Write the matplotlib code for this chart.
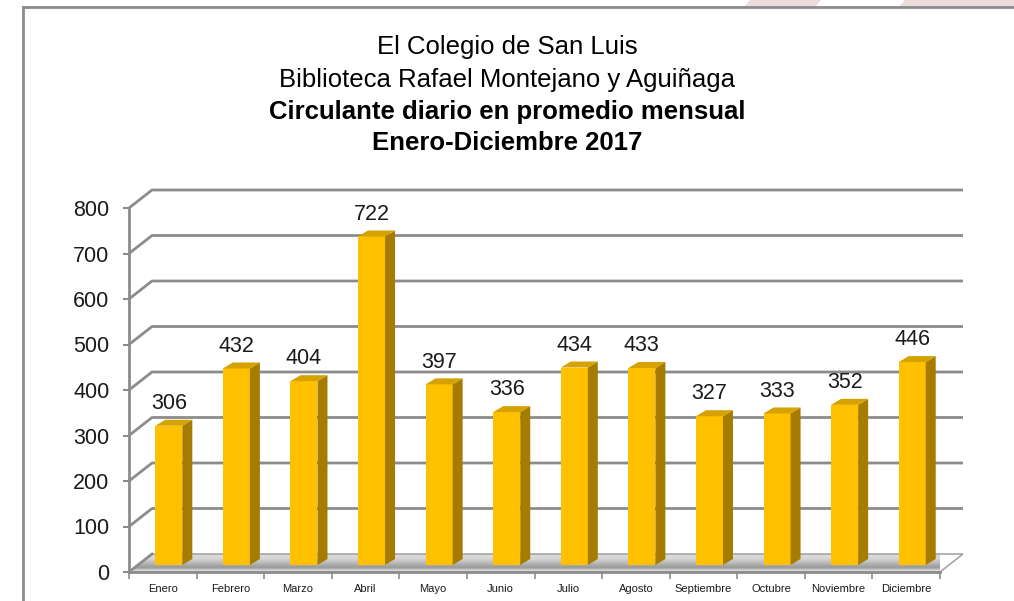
import matplotlib.pyplot as plt
import numpy as np
from matplotlib.patches import Polygon
from matplotlib.lines import Line2D
from matplotlib.colors import LinearSegmentedColormap

plt.rcParams['font.family'] = ['Liberation Sans', 'DejaVu Sans']

# datos
meses = ["Enero", "Febrero", "Marzo", "Abril", "Mayo", "Junio", "Julio",
         "Agosto", "Septiembre", "Octubre", "Noviembre", "Diciembre"]
circulante = [306, 432, 404, 722, 397, 336, 434, 433, 327, 333, 352, 446]
titulo_1 = "El Colegio de San Luis"
titulo_2 = "Biblioteca Rafael Montejano y Aguiñaga"
titulo_3 = "Circulante diario en promedio mensual"
titulo_4 = "Enero-Diciembre 2017"
yticks = np.arange(0, 801, 100)

gris = '#8c8c8c'

fig = plt.figure(figsize=(10.14, 6.01), dpi=100)
ax = fig.add_axes([129/1014, 29/601, 811/1014, 364/601])
ax.patch.set_visible(False)

# pixel -> data
kx = 12/811
ky = 800/364
WX, WY = 23*kx, 18*ky      # profundidad de la pared
BX, BY = 6*kx, 7*ky        # posicion de las barras sobre el piso
DX, DY = 10*kx, 6*ky       # profundidad de las barras
w = 0.4

xs = np.arange(len(meses))

# piso
floor = Polygon([(-0.5, 0), (11.5, 0), (11.5+WX, WY), (-0.5+WX, WY)],
                closed=True, facecolor='none', edgecolor='#a6a6a6', lw=1.2,
                zorder=1.6, clip_on=False)
ax.add_patch(floor)
cmap = LinearSegmentedColormap.from_list(
    'piso', ['#f2f2f2', '#9a9a9a', '#b8b8b8', '#d6d6d6', '#dcdcdc'])
grad = np.linspace(0, 1, 50).reshape(-1, 1)
im = ax.imshow(grad, extent=[-0.5, 11.5+WX, 0, WY], origin='lower',
               aspect='auto', cmap=cmap, zorder=1.5)
im.set_clip_path(floor)
im.set_clip_on(True)

# pared de fondo
for v in yticks[1:]:
    ax.plot([-0.5, -0.5+WX, 11.5+WX], [v, v+WY, v+WY], color=gris, lw=2,
            zorder=2, clip_on=False, solid_capstyle='butt')
ax.plot([-0.5, -0.5+WX], [0, WY], color=gris, lw=2, zorder=2, clip_on=False)

# barras
ax.bar(xs + BX, circulante, width=w, bottom=BY, color='#FFC000',
       zorder=3, clip_on=False)
for x, v in zip(xs + BX, circulante):
    x0, x1 = x - w/2, x + w/2
    top = BY + v
    ax.add_patch(Polygon([(x1, BY), (x1+DX, BY+DY), (x1+DX, top+DY), (x1, top)],
                         closed=True, facecolor='#A67C00', edgecolor='none',
                         zorder=3, clip_on=False))
    ax.add_patch(Polygon([(x0, top), (x1, top), (x1+DX, top+DY), (x0+DX, top+DY)],
                         closed=True, facecolor='#D6A200', edgecolor='none',
                         zorder=3, clip_on=False))
    ax.annotate(str(v), (x, top), xytext=(0, 16), textcoords='offset points',
                ha='center', va='center', fontsize=15.5, color='#1a1a1a',
                zorder=5)

ax.set_xlim(-0.5, 11.5)
ax.set_ylim(0, 800)

for s in ['top', 'right']:
    ax.spines[s].set_visible(False)
for s in ['left', 'bottom']:
    ax.spines[s].set_color(gris)
    ax.spines[s].set_linewidth(2)
    ax.spines[s].set_zorder(2.5)

ax.set_yticks(yticks)
ax.tick_params(axis='y', length=4, width=1.5, color=gris, labelsize=15.5,
               pad=10, labelcolor='#1a1a1a')
ax.set_xticks(np.arange(-0.5, 12, 1))
ax.set_xticklabels([])
ax.set_xticks(xs, minor=True)
ax.set_xticklabels(meses, minor=True, fontsize=8, color='#1a1a1a')
ax.tick_params(axis='x', which='major', length=5, width=1.2, color=gris)
ax.tick_params(axis='x', which='minor', length=0, pad=9)

# titulo
cx = 507/1014
fig.text(cx, 1-47/601, titulo_1, ha='center', va='center', fontsize=18.5)
fig.text(cx, 1-80/601, titulo_2, ha='center', va='center', fontsize=18.5)
fig.text(cx, 1-112/601, titulo_3, ha='center', va='center', fontsize=18.5,
         fontweight='bold')
fig.text(cx, 1-143/601, titulo_4, ha='center', va='center', fontsize=18.5,
         fontweight='bold')

# fondo de la diapositiva
for xa, xb in [(744, 815), (899, 1014)]:
    fig.patches.append(Polygon([(xa/1014, 1-7/601), (xb/1014, 1-7/601),
                                (min(xb+6, 1014)/1014, 1), ((xa+6)/1014, 1)],
                               closed=True, transform=fig.transFigure,
                               facecolor='#ecdcdc', edgecolor='none'))
fig.add_artist(Line2D([23/1014, 23/1014], [0, 1-7/601], transform=fig.transFigure,
                      color=gris, lw=2))
fig.add_artist(Line2D([23/1014, 1], [1-7/601, 1-7/601], transform=fig.transFigure,
                      color=gris, lw=2))

fig.savefig('out.png', dpi=100)
